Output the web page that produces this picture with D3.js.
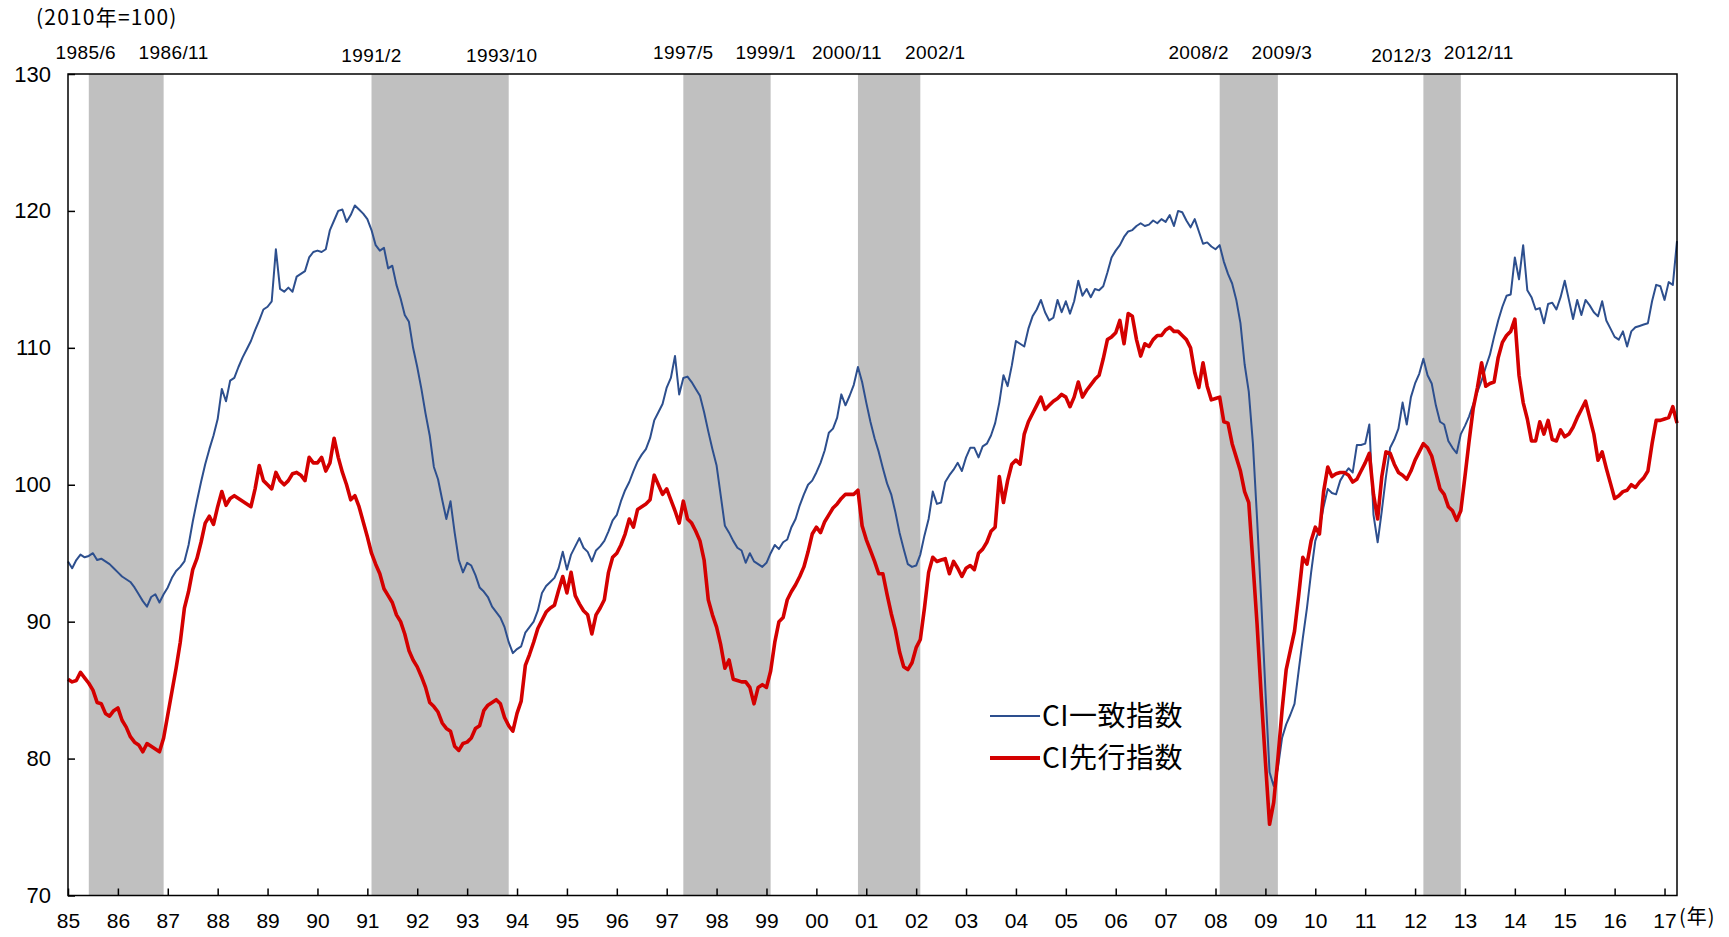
<!DOCTYPE html>
<html><head><meta charset="utf-8">
<script src="https://cdn.jsdelivr.net/npm/d3@7"></script>
<style>
body{margin:0;background:#fff;}
text{font-family:"Liberation Sans",Arial,sans-serif;fill:#000;}
.cjk{font-family:"Noto Sans CJK JP","Liberation Sans",sans-serif;}
</style>
</head><body><svg id="c" width="1729" height="937"></svg>
<script>
// ---------------- data ----------------
const startYear = 1985;           // first month = 1985/1, monthly data
const seriesNames = ["CI一致指数", "CI先行指数"];
const coincident = [
 94.4,93.9,94.5,94.9,94.7,94.8,95.0,94.5,94.6,94.4,94.2,93.9,
 93.6,93.3,93.1,92.9,92.5,92.0,91.5,91.1,91.8,92.0,91.4,92.0,
 92.5,93.2,93.7,94.0,94.4,95.6,97.3,98.8,100.2,101.5,102.6,103.6,
 104.8,107.0,106.1,107.6,107.8,108.6,109.3,109.9,110.5,111.3,112.0,112.8,
 113.0,113.4,117.2,114.3,114.1,114.4,114.1,115.2,115.4,115.6,116.6,117.0,
 117.1,117.0,117.2,118.6,119.3,120.0,120.1,119.2,119.7,120.4,120.1,119.8,
 119.4,118.6,117.5,117.1,117.3,115.8,116.0,114.6,113.6,112.4,111.9,110.0,
 108.6,107.0,105.2,103.6,101.3,100.4,98.9,97.5,98.8,96.5,94.5,93.6,
 94.3,94.1,93.4,92.5,92.2,91.8,91.1,90.7,90.3,89.6,88.5,87.7,
 88.0,88.2,89.2,89.6,90.0,90.8,92.1,92.6,92.9,93.2,93.9,95.1,
 93.8,94.9,95.5,96.1,95.4,95.1,94.4,95.2,95.5,95.9,96.6,97.4,
 97.8,98.8,99.6,100.2,101.0,101.7,102.2,102.6,103.4,104.7,105.3,105.9,
 107.1,107.8,109.4,106.6,107.8,107.9,107.5,107.0,106.5,105.3,103.9,102.6,
 101.4,99.2,97.0,96.5,95.9,95.4,95.2,94.3,95.0,94.4,94.2,94.0,
 94.3,95.0,95.6,95.3,95.8,96.0,96.9,97.5,98.5,99.3,100.0,100.3,
 100.9,101.6,102.5,103.8,104.1,104.9,106.6,105.8,106.5,107.3,108.6,107.5,
 106.0,104.6,103.4,102.4,101.2,100.1,99.3,98.0,96.5,95.3,94.2,94.0,
 94.1,94.9,96.3,97.5,99.5,98.6,98.7,100.2,100.7,101.1,101.6,101.0,
 102.0,102.7,102.7,102.0,102.8,103.0,103.6,104.5,106.0,108.0,107.2,108.7,
 110.5,110.3,110.1,111.4,112.3,112.8,113.5,112.6,112.0,112.2,113.5,112.6,
 113.4,112.5,113.4,114.9,113.8,114.3,113.7,114.3,114.2,114.5,115.5,116.6,
 117.1,117.5,118.1,118.5,118.6,118.9,119.1,118.9,119.0,119.3,119.1,119.4,
 119.2,119.7,118.9,120.0,119.9,119.3,118.8,119.4,118.5,117.6,117.7,117.4,
 117.2,117.5,116.3,115.4,114.7,113.5,111.8,108.8,106.8,103.0,97.5,91.5,
 85.0,79.0,78.0,79.3,81.5,82.5,83.2,84.0,86.4,88.8,91.0,93.6,
 95.9,96.8,98.4,99.7,99.4,99.3,100.3,100.8,101.2,100.9,102.9,102.9,
 103.0,104.4,97.8,95.8,98.1,100.6,102.7,103.3,104.1,106.0,104.4,106.4,
 107.4,108.1,109.2,108.0,107.4,105.8,104.6,104.4,103.2,102.7,102.3,103.7,
 104.3,105.0,105.9,106.8,107.6,108.6,109.5,110.8,112.0,113.0,113.8,113.9,
 116.6,115.0,117.5,114.2,113.7,112.8,112.9,111.8,113.2,113.3,112.8,113.7,
 114.9,113.5,112.1,113.5,112.4,113.5,113.1,112.6,112.3,113.4,112.0,111.4,
 110.8,110.6,111.2,110.1,111.2,111.5,111.6,111.7,111.8,113.4,114.6,114.5,
 113.5,114.8,114.6,117.8
];
const leading = [
 85.8,85.6,85.7,86.3,85.9,85.5,85.0,84.1,84.0,83.3,83.1,83.5,
 83.7,82.8,82.3,81.6,81.2,81.0,80.5,81.1,80.9,80.7,80.5,81.5,
 83.2,84.9,86.6,88.5,91.0,92.2,93.8,94.6,95.8,97.2,97.7,97.1,
 98.4,99.5,98.5,99.0,99.2,99.0,98.8,98.6,98.4,99.7,101.4,100.3,
 100.0,99.7,100.9,100.3,100.0,100.3,100.8,100.9,100.7,100.3,102.0,101.6,
 101.6,102.0,101.0,101.6,103.4,102.0,100.9,100.0,98.9,99.2,98.4,97.3,
 96.2,95.0,94.2,93.5,92.4,91.9,91.4,90.5,90.0,89.1,87.9,87.2,
 86.7,86.0,85.2,84.1,83.8,83.4,82.6,82.2,82.0,80.9,80.6,81.1,
 81.2,81.5,82.2,82.4,83.5,83.9,84.1,84.3,84.0,83.0,82.4,82.0,
 83.3,84.2,86.8,87.6,88.5,89.5,90.1,90.7,91.0,91.2,92.3,93.3,
 92.1,93.6,91.9,91.3,90.8,90.5,89.1,90.5,91.0,91.6,93.6,94.7,
 95.0,95.6,96.4,97.5,96.9,98.2,98.4,98.6,98.9,100.7,100.0,99.3,
 99.7,98.9,98.1,97.2,98.8,97.5,97.2,96.6,95.9,94.5,91.6,90.5,
 89.6,88.3,86.6,87.2,85.8,85.7,85.6,85.6,85.2,84.0,85.2,85.4,
 85.2,86.4,88.5,90.0,90.3,91.6,92.2,92.7,93.3,94.0,95.1,96.4,
 96.9,96.5,97.3,97.8,98.3,98.6,99.0,99.3,99.3,99.3,99.6,97.0,
 96.0,95.2,94.4,93.5,93.5,92.0,90.6,89.4,87.8,86.7,86.5,87.0,
 88.1,88.7,91.0,93.6,94.7,94.4,94.5,94.6,93.5,94.4,93.9,93.3,
 93.9,94.1,93.8,95.0,95.3,95.8,96.6,96.9,100.6,98.7,100.3,101.5,
 101.8,101.5,103.7,104.6,105.2,105.8,106.4,105.5,105.8,106.1,106.3,106.6,
 106.4,105.7,106.4,107.5,106.4,106.9,107.3,107.7,108.0,109.2,110.6,110.8,
 111.1,112.0,110.3,112.5,112.3,110.6,109.4,110.3,110.1,110.6,110.9,110.9,
 111.3,111.5,111.2,111.2,110.9,110.6,110.0,108.2,107.1,108.9,107.2,106.2,
 106.3,106.4,104.6,104.5,103.0,102.0,101.0,99.5,98.7,94.3,89.8,84.6,
 79.8,75.2,76.8,80.0,83.5,86.5,87.9,89.3,91.9,94.7,94.2,95.9,
 96.9,96.4,99.5,101.3,100.6,100.8,100.9,100.9,100.7,100.2,100.4,101.0,
 101.6,102.3,99.3,97.5,100.6,102.4,102.3,101.5,100.9,100.7,100.4,101.0,
 101.8,102.4,103.0,102.7,102.1,100.9,99.7,99.3,98.4,98.1,97.4,98.1,
 100.6,103.2,105.6,107.1,108.9,107.2,107.4,107.5,109.3,110.4,110.9,111.2,
 112.1,108.0,106.0,104.8,103.2,103.2,104.6,103.7,104.7,103.3,103.2,104.0,
 103.5,103.7,104.2,104.9,105.5,106.1,104.9,103.7,101.8,102.4,101.2,100.1,
 99.0,99.2,99.5,99.6,100.0,99.8,100.2,100.5,101.0,103.0,104.7,104.7,
 104.8,104.9,105.7,104.5
];
const recessionStarts = ["1985/6", "1991/2", "1997/5", "2000/11", "2008/2", "2012/3"];
const recessionEnds   = ["1986/11", "1993/10", "1999/1", "2002/1", "2009/3", "2012/11"];
const yTicks = [70, 80, 90, 100, 110, 120, 130];
const xTickYears = d3.range(1985, 2018);
const unitLabel = "(2010年=100)";
const xUnitLabel = "(年)";

// ---------------- layout / style ----------------
const M = {left: 68, right: 1677, top: 74, bottom: 895.5};
const colors = {coincident: "#2d4f8e", leading: "#d40000", shade: "#c0c0c0"};
// text offsets of the recession-date labels (start labels, end labels): [dx, dy]
const startShift = [[-3,0],[0,3],[0,0],[-11,0],[-21,0],[-22,3]];
const endShift   = [[10,0],[-7,3],[-5,0],[15,0],[4,0],[18,0]];

const svg = d3.select("#c");
const toT = (i) => startYear + i / 12;
const parseYM = (s, isEnd) => { const [yy, m] = s.split("/").map(Number); return yy + (m - 1 + (isEnd ? 1 : 0)) / 12; };

const x = d3.scaleLinear().domain([startYear, toT(coincident.length - 1)]).range([M.left, M.right]);
const y = d3.scaleLinear().domain([70, 130]).range([M.bottom, M.top]);

// recession shading
const periods = recessionStarts.map((s, i) => ({s, e: recessionEnds[i], t0: parseYM(s, false), t1: parseYM(recessionEnds[i], true), i}));
svg.append("g").selectAll("rect").data(periods).join("rect")
  .attr("x", d => x(d.t0)).attr("width", d => x(d.t1) - x(d.t0))
  .attr("y", M.top).attr("height", M.bottom - M.top)
  .attr("fill", colors.shade);

// recession labels
const lab = svg.append("g").attr("font-size", 19).attr("letter-spacing", 0.4).attr("text-anchor", "middle");
periods.forEach(d => {
  lab.append("text").attr("x", x(d.t0) + startShift[d.i][0]).attr("y", 59 + startShift[d.i][1]).text(d.s);
  lab.append("text").attr("x", x(d.t1) + endShift[d.i][0]).attr("y", 59 + endShift[d.i][1]).text(d.e);
});

// lines
const line = d3.line().x((d, i) => x(toT(i))).y(d => y(d));
svg.append("path").datum(coincident).attr("d", line).attr("fill", "none")
  .attr("stroke", colors.coincident).attr("stroke-width", 2).attr("stroke-linejoin", "round");
svg.append("path").datum(leading).attr("d", line).attr("fill", "none")
  .attr("stroke", colors.leading).attr("stroke-width", 3.6).attr("stroke-linejoin", "round");

// frame
svg.append("rect").attr("x", M.left).attr("y", M.top).attr("width", M.right - M.left).attr("height", M.bottom - M.top)
  .attr("fill", "none").attr("stroke", "#000").attr("stroke-width", 1.5);

// axes
const xAxis = d3.axisBottom(x).tickValues(xTickYears).tickFormat(d => String(d % 100).padStart(2, "0"))
  .tickSizeInner(-7).tickSizeOuter(0).tickPadding(18);
const gx = svg.append("g").attr("transform", `translate(0,${M.bottom})`).call(xAxis);
gx.select(".domain").remove();
gx.selectAll("line").attr("stroke", "#000").attr("stroke-width", 1.5);
gx.selectAll("text").attr("font-size", 21).attr("font-family", "Liberation Sans, Arial, sans-serif");

const yAxis = d3.axisLeft(y).tickValues(yTicks).tickSizeInner(-7).tickSizeOuter(0).tickPadding(17);
const gy = svg.append("g").attr("transform", `translate(${M.left},0)`).call(yAxis);
gy.select(".domain").remove();
gy.selectAll("line").attr("stroke", "#000").attr("stroke-width", 1.5);
gy.selectAll("text").attr("font-size", 22).attr("font-family", "Liberation Sans, Arial, sans-serif");

// unit labels
svg.append("text").attr("class", "cjk").attr("x", 36).attr("y", 25).attr("font-size", 21)
  .attr("letter-spacing", 1.2).text(unitLabel);
svg.append("text").attr("class", "cjk").attr("x", 1679).attr("y", 924).attr("font-size", 20)
  .attr("letter-spacing", 1).text(xUnitLabel);

// legend
const legend = svg.append("g");
[["coincident", 2, 716], ["leading", 4, 758]].forEach(([k, w, ly], i) => {
  legend.append("line").attr("x1", 990).attr("x2", 1040).attr("y1", ly).attr("y2", ly)
    .attr("stroke", colors[k]).attr("stroke-width", w);
  legend.append("text").attr("class", "cjk").attr("x", 1042).attr("y", ly).attr("dy", "0.36em")
    .attr("font-size", 28).attr("letter-spacing", 0.5).text(seriesNames[i]);
});
</script>
</body></html>
